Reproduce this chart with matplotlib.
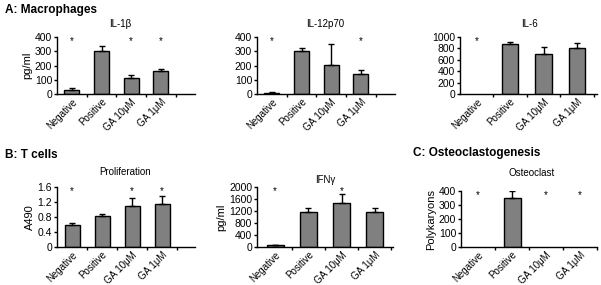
import matplotlib
matplotlib.use('Agg')
import matplotlib.pyplot as plt
import matplotlib.transforms as mtransforms

plt.rcParams['font.family'] = ['Liberation Sans', 'DejaVu Sans']

groups = ['Negative', 'Positive', 'GA 10\u03bcM', 'GA 1\u03bcM']

il1b = [30, 305, 110, 160]
il1b_err = [10, 35, 25, 15]
il1b_star = [True, False, True, True]

il12 = [8, 300, 205, 140]
il12_err = [3, 20, 145, 30]
il12_star = [True, False, False, True]

il6 = [0, 880, 710, 810]
il6_err = [0, 40, 120, 80]
il6_star = [True, False, False, False]

prolif = [0.60, 0.84, 1.09, 1.14]
prolif_err = [0.03, 0.03, 0.22, 0.22]
prolif_star = [True, False, True, True]

ifng = [60, 1180, 1480, 1170]
ifng_err = [20, 120, 280, 120]
ifng_star = [True, False, True, False]

osteo = [0, 350, 0, 0]
osteo_err = [0, 50, 0, 0]
osteo_star = [True, False, True, True]

W, H = 601, 285
fig = plt.figure(figsize=(W / 100, H / 100), dpi=100)


def panel(px_left, px_right, px_top, px_bottom, xlim, vals, errs, stars,
          ymax, ystep, title, tx, ty, ylabel=None):
    ax = fig.add_axes([px_left / W, 1 - px_bottom / H,
                       (px_right - px_left) / W, (px_bottom - px_top) / H])
    x = list(range(len(vals)))
    # bars only where value > 0 (GraphPad leaves empty slots)
    for i, v in enumerate(vals):
        if v > 0:
            ax.bar(i, v, width=0.5, color='#808080', edgecolor='black',
                   linewidth=1, zorder=2)
        if errs[i] > 0:
            ax.errorbar(i, v, yerr=[[0], [errs[i]]], fmt='none', ecolor='black',
                        elinewidth=1, capsize=2.5, capthick=1, zorder=3)
    ax.set_xlim(*xlim)
    ax.set_ylim(0, ymax)
    ticks = [i * ystep for i in range(int(round(ymax / ystep)) + 1)]
    ax.set_yticks(ticks)
    ax.set_yticklabels(['{:g}'.format(round(t, 2)) for t in ticks], fontsize=7.5)
    ax.set_xticks([i + 0.5 for i in x])
    ax.set_xticklabels([])
    ax.set_xticks(x, minor=True)
    ax.set_xticklabels(groups, minor=True, rotation=45, ha='right',
                       rotation_mode='anchor', fontsize=7)
    shift = mtransforms.ScaledTranslation(4 / 100, 0, fig.dpi_scale_trans)
    for lab in ax.get_xticklabels(minor=True):
        lab.set_transform(lab.get_transform() + shift)
    ax.tick_params(axis='x', which='minor', length=0, pad=2)
    ax.tick_params(axis='x', which='major', length=2.5, width=1, direction='out')
    ax.tick_params(axis='y', length=2.5, width=1, pad=1)
    for s in ['top', 'right']:
        ax.spines[s].set_visible(False)
    ax.spines['left'].set_linewidth(1)
    ax.spines['bottom'].set_linewidth(1)
    for i, st in enumerate(stars):
        if st:
            ax.text(i, ymax * 0.93, '*', ha='center', va='center', fontsize=7,
                    clip_on=False)
    if ylabel:
        ax.set_ylabel(ylabel, fontsize=8, labelpad=2)
    fig.text(tx / W, 1 - ty / H, title, ha='center', va='center', fontsize=7)
    return ax


panel(57, 195, 37, 94, (-0.5, 4.15), il1b, il1b_err, il1b_star, 400, 100,
      'IL-1\u03b2', 120, 24, 'pg/ml')
panel(257, 395, 37, 94, (-0.5, 4.15), il12, il12_err, il12_star, 400, 100,
      'IL-12p70', 325, 24)
panel(460, 597, 37, 94, (-0.5, 3.6), il6, il6_err, il6_star, 1000, 200,
      'IL-6', 530, 24)
panel(57, 195, 187, 247, (-0.5, 4.1), prolif, prolif_err, prolif_star, 1.6, 0.4,
      'Proliferation', 125, 172, 'A490')
panel(257, 393, 187, 247, (-0.55, 3.55), ifng, ifng_err, ifng_star, 2000, 400,
      'IFN\u03b3', 325, 180, 'pg/ml')
panel(461, 597, 191, 247, (-0.5, 3.5), osteo, osteo_err, osteo_star, 400, 100,
      'Osteoclast', 532, 173, 'Polykaryons')

fig.text(5 / W, 1 - 10 / H, 'A: Macrophages', fontsize=8.5, fontweight='bold',
         va='center', ha='left')
fig.text(5 / W, 1 - 155 / H, 'B: T cells', fontsize=8.5, fontweight='bold',
         va='center', ha='left')
fig.text(413 / W, 1 - 153 / H, 'C: Osteoclastogenesis', fontsize=8.5,
         fontweight='bold', va='center', ha='left')

fig.savefig('out.png', dpi=100)
